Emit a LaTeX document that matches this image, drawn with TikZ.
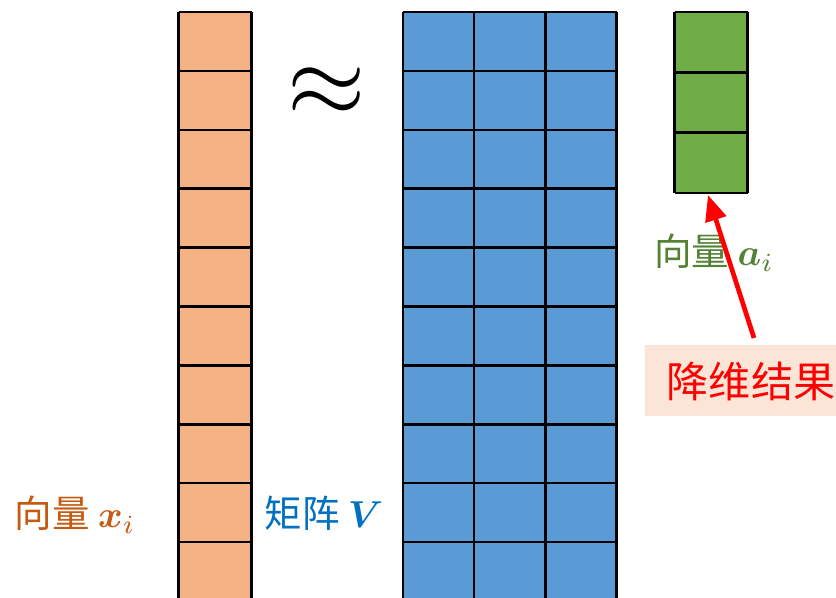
\documentclass[tikz,border=0pt]{standalone}
\usepackage{fontspec}
\usepackage{bm}
\usetikzlibrary{arrows.meta}
\newfontfamily\cjk{Noto Sans CJK SC}
\newcommand{\bigmath}[1]{\scalebox{3.2}{\fontsize{10}{12}\selectfont$#1$}}
\definecolor{vecx}{HTML}{F4B183}
\definecolor{matv}{HTML}{5B9BD5}
\definecolor{veca}{HTML}{70AD47}
\definecolor{txtx}{HTML}{C55A11}
\definecolor{txtv}{HTML}{0070C0}
\definecolor{txta}{HTML}{538135}
\definecolor{boxbg}{HTML}{FBE5D6}
\tikzset{
  gridline/.style={line width=2.2pt},
  lab/.style={font=\cjk\fontsize{32}{32}\selectfont, inner sep=0pt},
}
\begin{document}
\begin{tikzpicture}[x=0.03cm,y=-0.03cm]
        \useasboundingbox (0,0) rectangle (836,598);
        \clip (0,0) rectangle (836,598);
        % vector x_i
        \path[fill=vecx] (178.5,12) rectangle (251.5,601);
        \foreach \k in {0,...,10}
            \draw[gridline] (178.5,12+58.9*\k) -- (251.5,12+58.9*\k);
        \draw[gridline] (178.5,12) -- (178.5,601) (251.5,12) -- (251.5,601);
        % matrix V
        \path[fill=matv] (403,12) rectangle (616.5,601);
        \foreach \k in {0,...,10}
            \draw[gridline] (403,12+58.9*\k) -- (616.5,12+58.9*\k);
        \foreach \c in {0,...,3}
            \draw[gridline] (403+71.17*\c,12) -- (403+71.17*\c,601);
        % vector a_i
        \path[fill=veca] (674.5,12) rectangle (747.5,193);
        \foreach \k in {0,...,3}
            \draw[gridline] (674.5,12+60.3*\k) -- (747.5,12+60.3*\k);
        \draw[gridline] (674.5,12) -- (674.5,193) (747.5,12) -- (747.5,193);
        \coordinate (abot) at (708,195);
        % labels
        \node (approx) at (327,92) {\scalebox{8.6}{$\approx$}};
        \node[lab,text=txtx] (xlabel) at (75,515) {向量 \bigmath{\bm{x}_i}};
        \node[lab,text=txtv] (vlabel) at (324,513) {矩阵 \bigmath{\bm{V}}};
        \node[lab,text=txta] (alabel) at (714,253) {向量 \bigmath{\bm{a}_i}};
        \path[fill=boxbg] (645,345) rectangle (836,416);
        \node[font=\cjk\fontsize{36}{36}\selectfont,text=red,inner sep=0pt] (result) at (751,381) {降维结果};
        \coordinate (rtop) at (754,338);
        \draw[red,line width=4pt,-{Triangle[length=22pt,width=18pt]}] (rtop) -- (abot);
    \end{tikzpicture}
\end{document}
